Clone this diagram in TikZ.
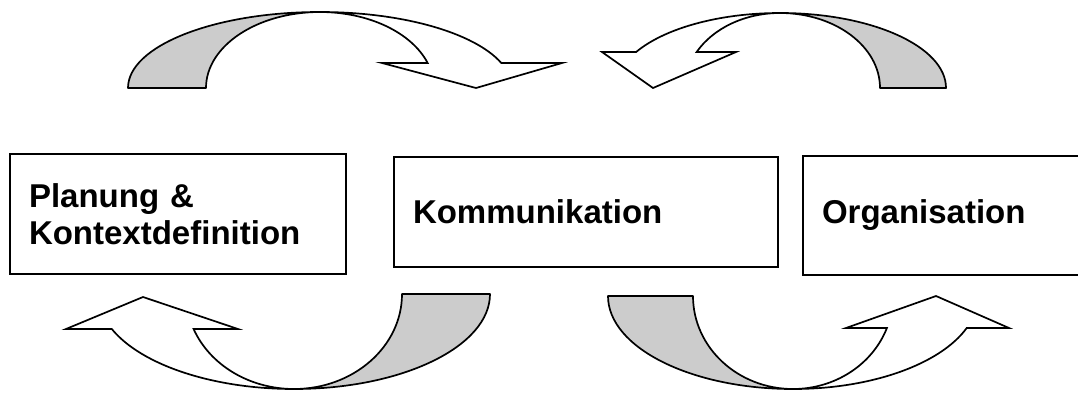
\documentclass[tikz,border=0pt]{standalone}
\usepackage{fontspec}
\setmainfont{Liberation Sans}
\usetikzlibrary{calc}

\begin{document}
\begin{tikzpicture}[
  x=1pt, y=1pt,
  box/.style   = {draw, line width=2pt, anchor=north west, align=left,
                  inner xsep=19pt, inner ysep=0pt,
                  font=\fontsize{33}{37}\selectfont\bfseries},
  back/.style  = {draw, line width=1.7pt, line join=round, fill=black!20},
  front/.style = {draw, line width=1.7pt, line join=miter, fill=white}
]
  \clip (0,0) rectangle (1078,-394);

  %% Phase boxes
  \node[box, minimum width=336, minimum height=120, text width=298]
       (plan) at (9,-153)   {Planung \&\\Kontextdefinition};
  \node[box, minimum width=384, minimum height=110, text width=346]
       (kom)  at (393,-156) {Kommunikation};
  \node[box, minimum width=300, minimum height=119, text width=262]
       (org)  at (802,-155) {Organisation};

  %% Planung -> Kommunikation (top left)
  \coordinate (planKom) at (320,-88);
  \path[back] (planKom) ++(180:192 and 76)
      arc[start angle=180, end angle=90, x radius=192, y radius=76]
      arc[start angle=90, end angle=180, x radius=114, y radius=76] -- cycle;
  \path[front] (planKom) ++(90:192 and 76)
      arc[start angle=90, end angle=19.2, x radius=192, y radius=76]
      -- (562,-63) -- (476,-88) -- (382,-63)
      -- ($(planKom)+(19.2:114 and 76)$)
      arc[start angle=19.2, end angle=90, x radius=114, y radius=76] -- cycle;

  %% Organisation -> Kommunikation (top right)
  \coordinate (orgKom) at (780,-88);
  \path[back] (orgKom) ++(0:166 and 75)
      arc[start angle=0, end angle=90, x radius=166, y radius=75]
      arc[start angle=90, end angle=0, x radius=100, y radius=75] -- cycle;
  \path[front] (orgKom) ++(90:164 and 75)
      arc[start angle=90, end angle=151.3, x radius=164, y radius=75]
      -- (602,-52) -- (653,-88) -- (736,-52)
      -- ($(orgKom)+(151.3:95 and 75)$)
      arc[start angle=151.3, end angle=90, x radius=95, y radius=75] -- cycle;

  %% Kommunikation -> Planung (bottom left)
  \coordinate (komPlan) at (294,-294);
  \path[back] (komPlan) ++(0:196 and 95)
      arc[start angle=0, end angle=-90, x radius=196, y radius=95]
      arc[start angle=-90, end angle=0, x radius=108, y radius=95] -- cycle;
  \path[front] (komPlan) ++(270:196 and 95)
      arc[start angle=270, end angle=201.6, x radius=196, y radius=95]
      -- (66,-329) -- (143,-297) -- (238,-329)
      -- ($(komPlan)+(201.6:108 and 95)$)
      arc[start angle=201.6, end angle=270, x radius=108, y radius=95] -- cycle;

  %% Kommunikation -> Organisation (bottom right)
  \coordinate (komOrg) at (793,-296);
  \path[back] (komOrg) ++(180:185 and 93)
      arc[start angle=180, end angle=270, x radius=185, y radius=93]
      arc[start angle=270, end angle=180, x radius=100, y radius=93] -- cycle;
  \path[front] (komOrg) ++(270:185 and 93)
      arc[start angle=270, end angle=339.9, x radius=185, y radius=93]
      -- (1009,-328) -- (936,-296) -- (846,-328)
      -- ($(komOrg)+(339.9:100 and 93)$)
      arc[start angle=339.9, end angle=270, x radius=100, y radius=93] -- cycle;
\end{tikzpicture}
\end{document}
